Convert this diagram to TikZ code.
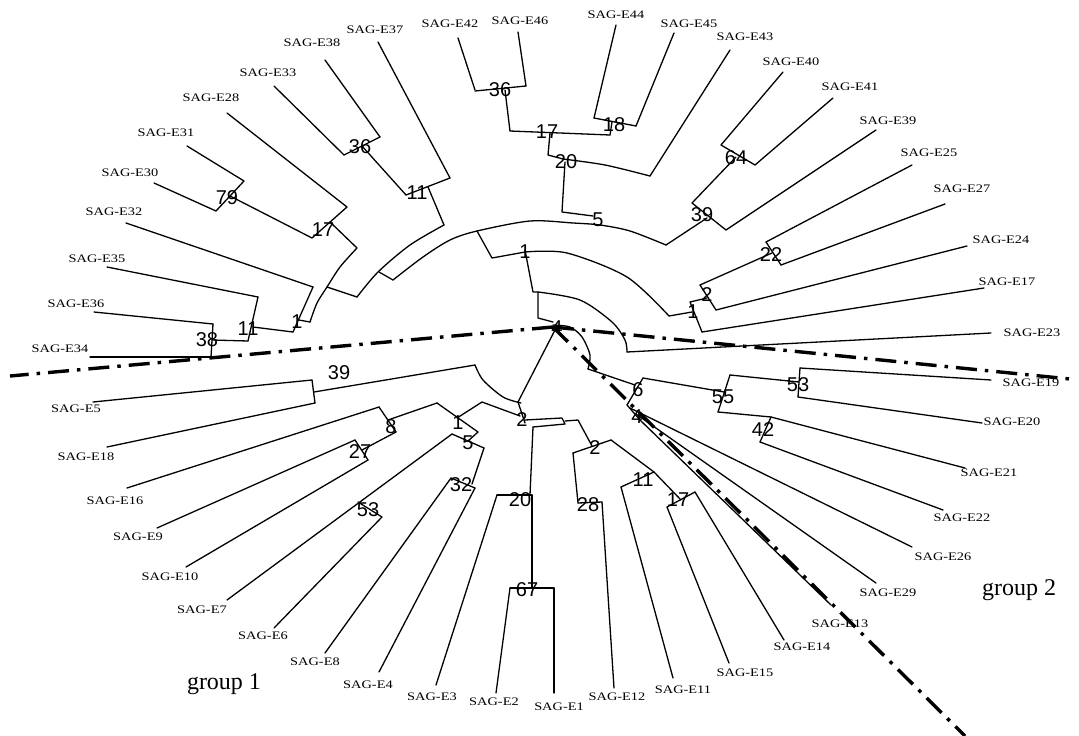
\documentclass[tikz,border=0pt]{standalone}
\usepackage{fontspec}
\setmainfont{Liberation Serif}
\newfontfamily\numfont{Liberation Sans}
\newcommand\sag[1]{\scalebox{1.25}[1]{SAG-E#1}}
\begin{document}
\begin{tikzpicture}[x=1pt,y=-1pt,
  tr/.style={line width=1.3pt,line join=round,line cap=round},
  dd/.style={line width=3.4pt,dash pattern=on 21pt off 8pt on 3.5pt off 8pt},
  leaf/.style={font=\fontsize{11.5}{11.5}\selectfont,inner sep=0pt},
  num/.style={font=\numfont\fontsize{20}{20}\selectfont,inner sep=0pt},
  grp/.style={font=\fontsize{24}{24}\selectfont,inner sep=0pt}]
\useasboundingbox[fill=white] (0,0) rectangle (1079,736);
% ---------- upper left ----------
\draw[tr] (378,42)--(450,178);
\draw[tr] (325,60)--(380,137);
\draw[tr] (274,86)--(344,155);
\draw[tr] (380,137)--(344,155);
\draw[tr] (362,146)--(406,195);
\draw[tr] (406,195)--(450,178);
\draw[tr] (428,187)--(444,225);
\draw[tr] (227,113)--(347,207);
\draw[tr] (187,146)--(244,181);
\draw[tr] (154,183)--(216,211);
\draw[tr] (244,181)--(216,211);
\draw[tr] (230,196)--(312,238);
\draw[tr] (347,207)--(312,238);
\draw[tr] (330,222)--(357,248);
\draw[tr] (126,223)--(313,287);
\draw[tr] (107,267)--(258,297);
\draw[tr] (94,312)--(213,324);
\draw[tr] (90,357)--(211,357);
\draw[tr] (213,324)--(211,357);
\draw[tr] (212,340)--(248,341);
\draw[tr] (248,341)--(258,297);
\draw[tr] (253,327)--(293,332);
\draw[tr] (293,332)--(313,287);
\draw[tr] (299,320)--(310,322);
\draw[tr] plot[smooth] coordinates {(310,322) (317,303) (327,287) (340,267) (357,248)};
\draw[tr] (327,287)--(357,297);
\draw[tr] plot[smooth] coordinates {(357,297) (378,272) (410,245) (444,225)};
\draw[tr] (379,272)--(393,280);
\draw[tr] plot[smooth] coordinates {(393,280) (423,257) (450,240) (477,231) (530,221) (573,223) (600,225) (630,231) (666,245)};
% ---------- top ----------
\draw[tr] (458,38)--(475,90);
\draw[tr] (518,32)--(526,86);
\draw[tr] (475,91)--(526,86);
\draw[tr] (505,90)--(510,131);
\draw[tr] (510,131)--(610,135);
\draw[tr] (616,25)--(594,118);
\draw[tr] (674,33)--(636,126);
\draw[tr] (594,118)--(636,126);
\draw[tr] (612,122)--(610,135);
\draw[tr] (550,133)--(548,155)--(563,159);
\draw[tr] plot[smooth] coordinates {(563,159) (605,165) (650,176)};
\draw[tr] (730,50)--(650,176);
\draw[tr] (565,162)--(562,212)--(593,216);
% ---------- upper right ----------
\draw[tr] (783,72)--(721,145);
\draw[tr] (833,98)--(755,165);
\draw[tr] (721,145)--(755,165);
\draw[tr] (736,157)--(692,203);
\draw[tr] (876,130)--(726,230);
\draw[tr] (692,203)--(726,230);
\draw[tr] (707,218)--(666,245);
\draw[tr] (912,165)--(766,242);
\draw[tr] (945,204)--(781,265);
\draw[tr] (766,242)--(781,265);
\draw[tr] (772,253)--(700,285);
\draw[tr] (700,285)--(716,310);
\draw[tr] (967,246)--(716,310);
\draw[tr] (707,298)--(690,302)--(702,332);
\draw[tr] (984,288)--(702,332);
% ---------- centre ----------
\draw[tr] (477,231)--(492,258)--(525,252);
\draw[tr] plot[smooth] coordinates {(525,252) (567,253) (627,277) (669,316)};
\draw[tr] (669,316)--(692,312);
\draw[tr] (525,250)--(533,292)--(538,292)--(538,318)--(553,322);
\draw[tr] plot[smooth] coordinates {(538,292) (580,300) (612,322) (625,340) (627,352)};
\draw[tr] (627,352)--(991,333);
\draw[tr] (555,330)--(518,402)--(525,423);
\draw[tr] plot[smooth] coordinates {(553,325) (570,327) (582,337) (590,355) (588,369)};
% ---------- lower right ----------
\draw[tr] (588,369)--(635,385);
\draw[tr] (643,378)--(627,405);
\draw[tr] (643,378)--(724,392);
\draw[tr] (730,375)--(718,412);
\draw[tr] (730,375)--(799,382);
\draw[tr] (800,368)--(798,397);
\draw[tr] (800,368)--(991,380);
\draw[tr] (798,397)--(982,423);
\draw[tr] (718,412)--(771,417);
\draw[tr] (771,417)--(760,442);
\draw[tr] (771,417)--(965,468);
\draw[tr] (760,442)--(943,510);
\draw[tr] (627,405)--(640,420);
\draw[tr] (630,408)--(912,547);
\draw[tr] (636,414)--(876,583);
\draw[tr] (640,420)--(831,605);
% ---------- lower centre ----------
\draw[tr] (525,420)--(562,418)--(565,424)--(533,427);
\draw[tr] (565,421)--(578,420)--(592,446);
\draw[tr] (573,453)--(611,440);
\draw[tr] (573,453)--(578,503);
\draw[tr] (578,503)--(602,502);
\draw[tr] (602,502)--(614,688);
\draw[tr] (611,440)--(654,472);
\draw[tr] (621,487)--(654,472);
\draw[tr] (621,487)--(673,678);
\draw[tr] (654,472)--(681,500);
\draw[tr] (667,507)--(695,492);
\draw[tr] (667,507)--(729,663);
\draw[tr] (695,492)--(784,640);
\draw[tr] (533,427)--(530,495);
\draw[tr] (497,495)--(532,495);
\draw[tr] (497,495)--(436,685);
\draw[tr] (532,495)--(532,588);
\draw[tr] (510,588)--(554,588);
\draw[tr] (510,588)--(496,693);
\draw[tr] (554,588)--(554,693);
% ---------- lower left ----------
\draw[tr] (93,402)--(312,380);
\draw[tr] (107,447)--(315,403);
\draw[tr] (312,380)--(315,403);
\draw[tr] (314,392)--(475,365);
\draw[tr] plot[smooth] coordinates {(475,365) (483,380) (503,397) (521,403)};
\draw[tr] (127,488)--(379,407);
\draw[tr] (379,407)--(396,432);
\draw[tr] (157,528)--(355,440);
\draw[tr] (186,567)--(368,460);
\draw[tr] (355,440)--(368,460);
\draw[tr] (362,450)--(396,432);
\draw[tr] (388,420)--(437,403);
\draw[tr] (437,403)--(478,432);
\draw[tr] (457,418)--(482,402)--(520,416);
\draw[tr] (227,600)--(452,434);
\draw[tr] (358,502)--(382,517);
\draw[tr] (274,628)--(382,517);
\draw[tr] (452,434)--(484,448);
\draw[tr] (468,441)--(478,432);
\draw[tr] (325,653)--(451,478);
\draw[tr] (379,672)--(475,488);
\draw[tr] (451,478)--(475,488);
\draw[tr] (472,484)--(484,448);
% ---------- dash-dot separators ----------
\draw[dd] (553,327)--(10,376);
\draw[dd] (553,327)--(1070,379);
\draw[dd] (553,327)--(965,736);
% ---------- leaf labels ----------
\node[leaf] (l37) at (375,30) {\sag{37}};
\node[leaf] (l38) at (312,43) {\sag{38}};
\node[leaf] (l33) at (268,73) {\sag{33}};
\node[leaf] (l28) at (211,98) {\sag{28}};
\node[leaf] (l31) at (166,133) {\sag{31}};
\node[leaf] (l30) at (130,173) {\sag{30}};
\node[leaf] (l32) at (114,212) {\sag{32}};
\node[leaf] (l35) at (97,259) {\sag{35}};
\node[leaf] (l36) at (76,304) {\sag{36}};
\node[leaf] (l34) at (60,349) {\sag{34}};
\node[leaf] (l42) at (450,24) {\sag{42}};
\node[leaf] (l46) at (520,21) {\sag{46}};
\node[leaf] (l44) at (616,15) {\sag{44}};
\node[leaf] (l45) at (689,24) {\sag{45}};
\node[leaf] (l43) at (745,37) {\sag{43}};
\node[leaf] (l40) at (791,62) {\sag{40}};
\node[leaf] (l41) at (850,87) {\sag{41}};
\node[leaf] (l39) at (888,121) {\sag{39}};
\node[leaf] (l25) at (929,153) {\sag{25}};
\node[leaf] (l27) at (962,189) {\sag{27}};
\node[leaf] (l24) at (1001,240) {\sag{24}};
\node[leaf] (l17) at (1007,282) {\sag{17}};
\node[leaf] (l23) at (1032,333) {\sag{23}};
\node[leaf] (l19) at (1031,383) {\sag{19}};
\node[leaf] (l20) at (1012,422) {\sag{20}};
\node[leaf] (l21) at (989,473) {\sag{21}};
\node[leaf] (l22) at (962,518) {\sag{22}};
\node[leaf] (l26) at (943,557) {\sag{26}};
\node[leaf] (l29) at (888,593) {\sag{29}};
\node[leaf] (l13) at (840,624) {\sag{13}};
\node[leaf] (l14) at (802,647) {\sag{14}};
\node[leaf] (l15) at (745,673) {\sag{15}};
\node[leaf] (l11) at (683,690) {\sag{11}};
\node[leaf] (l12) at (617,697) {\sag{12}};
\node[leaf] (l1) at (559,707) {\sag{1}};
\node[leaf] (l2) at (494,702) {\sag{2}};
\node[leaf] (l3) at (432,697) {\sag{3}};
\node[leaf] (l4) at (368,685) {\sag{4}};
\node[leaf] (l8) at (315,662) {\sag{8}};
\node[leaf] (l6) at (263,636) {\sag{6}};
\node[leaf] (l7) at (202,610) {\sag{7}};
\node[leaf] (l10) at (170,577) {\sag{10}};
\node[leaf] (l9) at (138,537) {\sag{9}};
\node[leaf] (l16) at (115,501) {\sag{16}};
\node[leaf] (l18) at (86,457) {\sag{18}};
\node[leaf] (l5) at (76,409) {\sag{5}};
% ---------- support values ----------
\node[num] (n1) at (360,147) {36};
\node[num] (n2) at (417,193) {11};
\node[num] (n3) at (227,198) {79};
\node[num] (n4) at (323,230) {17};
\node[num] (n5) at (297,322) {1};
\node[num] (n6) at (248,329) {11};
\node[num] (n7) at (207,340) {38};
\node[num] (n8) at (500,90) {36};
\node[num] (n9) at (547,132) {17};
\node[num] (n10) at (614,125) {18};
\node[num] (n11) at (566,162) {20};
\node[num] (n12) at (598,220) {5};
\node[num] (n13) at (736,158) {64};
\node[num] (n14) at (702,215) {39};
\node[num] (n15) at (771,255) {22};
\node[num] (n16) at (707,295) {2};
\node[num] (n17) at (693,312) {1};
\node[num] (n18) at (525,252) {1};
\node[num] (n19) at (557,328) {4};
\node[num] (n20) at (339,373) {39};
\node[num] (n21) at (391,427) {8};
\node[num] (n22) at (360,452) {27};
\node[num] (n23) at (458,423) {1};
\node[num] (n24) at (468,443) {5};
\node[num] (n25) at (522,420) {2};
\node[num] (n26) at (461,485) {32};
\node[num] (n27) at (368,510) {53};
\node[num] (n28) at (520,500) {20};
\node[num] (n29) at (527,590) {67};
\node[num] (n30) at (588,505) {28};
\node[num] (n31) at (595,448) {2};
\node[num] (n32) at (643,480) {11};
\node[num] (n33) at (678,500) {17};
\node[num] (n34) at (638,390) {6};
\node[num] (n35) at (637,417) {4};
\node[num] (n36) at (723,397) {55};
\node[num] (n37) at (798,385) {53};
\node[num] (n38) at (763,430) {42};
% ---------- group labels ----------
\node[grp] (g1) at (224,684) {group 1};
\node[grp] (g2) at (1019,590) {group 2};
\end{tikzpicture}
\end{document}
